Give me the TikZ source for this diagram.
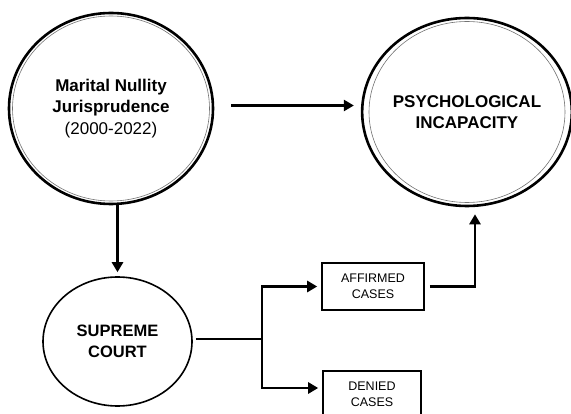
\documentclass[tikz,border=0pt]{standalone}
\usepackage{fontspec}
\setmainfont{Liberation Sans}
\usetikzlibrary{shapes.geometric,arrows.meta,calc}
\begin{document}
\begin{tikzpicture}[x=1pt,y=-1pt,
  bigcirc/.style={ellipse,draw,line width=2.6pt,inner sep=0pt,align=center,
    font=\bfseries\fontsize{17}{21.5}\selectfont},
  innerline/.style={draw=black!55,line width=0.6pt},
  scnode/.style={ellipse,draw,line width=1.6pt,inner sep=0pt,align=center,
    font=\bfseries\fontsize{16.5}{21}\selectfont},
  casebox/.style={rectangle,draw,line width=1.6pt,inner sep=0pt,align=center,
    font=\fontsize{12.5}{16}\selectfont},
  conn/.style={line width=2.3pt},
  arr/.style={line width=2.5pt,-{Triangle[length=10pt,width=11pt]}}]
\useasboundingbox (0,0) rectangle (571,414);
\begin{scope}
\clip (0,0) rectangle (571,414);
\node[bigcirc,minimum width=204pt,minimum height=191pt] (jur) at (111,108.5)
  {Marital Nullity\\Jurisprudence\\{\mdseries (2000-2022)}};
\draw[innerline] (jur.center) ellipse [x radius=98.5, y radius=92.5];
\node[bigcirc,minimum width=203pt,minimum height=188pt] (psy) at (467,112)
  {PSYCHOLOGICAL\\INCAPACITY};
\draw[innerline] (psy.center) ellipse [x radius=98, y radius=90.5];
\node[scnode,minimum width=149pt,minimum height=129pt] (sc) at (117.5,341.5)
  {SUPREME\\COURT};
\node[casebox,minimum width=102pt,minimum height=47pt] (aff) at (373,286.5)
  {AFFIRMED\\CASES};
\node[casebox,minimum width=98pt,minimum height=47pt] (den) at (372,394.5)
  {DENIED\\CASES};
\coordinate (br) at (262,339);
\draw[arr,shorten <=17pt,shorten >=7pt] ([yshift=3pt]jur.east) -- ([yshift=3pt]jur.east -| psy.west);
\draw[arr,shorten <=0pt,shorten >=4pt] (sc.north |- jur.south) -- (sc.north);
\draw[conn,shorten <=3pt] (sc.east |- br) -- (br);
\draw[arr,shorten >=4pt] (br) |- (aff.west);
\draw[arr,shorten >=4pt] (br) |- ([yshift=6.5pt]den.west);
\draw[arr,shorten <=5pt,shorten >=7pt] (aff.east) -| ([xshift=8pt]psy.south);
\end{scope}
\end{tikzpicture}
\end{document}
